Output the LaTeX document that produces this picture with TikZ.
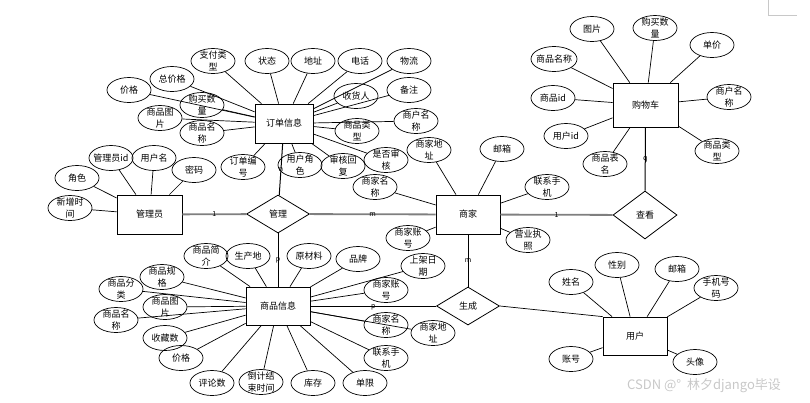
\documentclass[tikz,border=0pt]{standalone}
\usepackage{fontspec}
\setmainfont{Noto Sans CJK SC}
\usetikzlibrary{shapes.geometric}
\definecolor{relgray}{HTML}{7F7F7F}
\definecolor{faint}{HTML}{C8C8C8}

\begin{document}
\begin{tikzpicture}[x=1pt,y=-1pt,
  font=\fontsize{9}{11.5}\selectfont,
  ent/.style={draw,line width=0.8pt,minimum width=64pt,minimum height=38pt,inner sep=0pt},
  rel/.style={draw,diamond,line width=0.8pt,inner sep=0pt,minimum width=63pt,minimum height=38pt},
  attr/.style={draw,ellipse,line width=0.7pt,minimum width=44pt,minimum height=25pt,inner sep=-2pt,align=center},
  ln/.style={line width=0.7pt},
  link/.style={line width=1.8pt,draw=relgray},
  card/.style={font=\fontsize{7}{8}\selectfont,inner sep=1pt}]
\useasboundingbox (0,0) rectangle (810,402);
\draw[faint,line width=0.8pt] (768,0) -- (768,15) -- (797,15);

% entities
\node[ent,minimum width=58pt,minimum height=39pt] (orders) at (284,123.5) {订单信息};
\node[ent,minimum width=65pt,minimum height=39pt] (admin) at (149.5,214.5) {管理员};
\node[ent,minimum height=39pt] (shop) at (468,214.5) {商家};
\node[ent,minimum width=65pt,minimum height=44pt] (cart) at (645.5,105) {购物车};
\node[ent] (goods) at (278,306) {商品信息};
\node[ent] (user) at (635,336) {用户};

% relationships
\node[rel] (manage) at (278,214) {管理};
\node[rel,minimum width=64pt,minimum height=48pt] (view) at (645,215) {查看};
\node[rel] (make) at (468,306) {生成};

% order attributes
\node[attr] (oPay) at (213,61) {支付类\\型};
\node[attr] (oState) at (267,61) {状态};
\node[attr] (oAddr) at (313,61) {地址};
\node[attr] (oTel) at (360,61) {电话};
\node[attr] (oShip) at (409,61) {物流};
\node[attr] (oTotal) at (172,79) {总价格};
\node[attr] (oPrice) at (129,90) {价格};
\node[attr] (oNum) at (202,105) {购买数\\量};
\node[attr] (oPic) at (160,118) {商品图\\片};
\node[attr] (oName) at (202,133) {商品名\\称};
\node[attr] (oRecv) at (356,96) {收货人};
\node[attr] (oNote) at (409,90) {备注};
\node[attr] (oMerch) at (416,121) {商户名\\称};
\node[attr] (oType) at (357,131) {商品类\\型};
\node[attr] (oNo) at (243,167) {订单编\\号};
\node[attr] (oRole) at (300,165) {用户角\\色};
\node[attr] (oReply) at (343,166) {审核回\\复};
\node[attr] (oCheck) at (386,160) {是否审\\核};

% admin attributes
\node[attr] (aRole) at (77,178) {角色};
\node[attr] (aId) at (111,158) {管理员id};
\node[attr] (aUser) at (154,158) {用户名};
\node[attr] (aPwd) at (194,170) {密码};
\node[attr] (aTime) at (70,208) {新增时\\间};

% shop attributes
\node[attr] (sAddr) at (429,150) {商家地\\址};
\node[attr] (sMail) at (502,149) {邮箱};
\node[attr] (sTel) at (547,187) {联系手\\机};
\node[attr] (sName) at (375,187) {商家名\\称};
\node[attr] (sAcc) at (408,238) {商家账\\号};
\node[attr] (sLic) at (528,240) {营业执\\照};

% cart attributes
\node[attr] (cPic) at (592,29) {图片};
\node[attr] (cNum) at (655,28) {购买数\\量};
\node[attr] (cPrice) at (712,45) {单价};
\node[attr,minimum width=46pt] (cName) at (554,59) {商品名称};
\node[attr] (cId) at (553,98) {商品id};
\node[attr] (cUid) at (566,136) {用户id};
\node[attr] (cMerch) at (729,97) {商户名\\称};
\node[attr] (cType) at (717,151) {商品类\\型};
\node[attr] (cTab) at (605,164) {商品表\\名};

% goods attributes
\node[attr] (gIntro) at (206,256) {商品简\\介};
\node[attr] (gPlace) at (248,256) {生产地};
\node[attr] (gMat) at (309,256) {原材料};
\node[attr] (gBrand) at (358,259) {品牌};
\node[attr] (gSpec) at (162,277) {商品规\\格};
\node[attr] (gCat) at (121,289) {商品分\\类};
\node[attr] (gPic) at (165,307) {商品图\\片};
\node[attr] (gName) at (116,320) {商品名\\称};
\node[attr] (gFav) at (165,338) {收藏数};
\node[attr] (gPrice) at (181,358) {价格};
\node[attr] (gCmt) at (212,383) {评论数};
\node[attr] (gEnd) at (261,382) {倒计结\\束时间};
\node[attr] (gStock) at (313,383) {库存};
\node[attr] (gLimit) at (365,383) {单限};
\node[attr] (gTel) at (386,358) {联系手\\机};
\node[attr] (gSName) at (386,325) {商家名\\称};
\node[attr] (gSAddr) at (433,333) {商家地\\址};
\node[attr] (gSAcc) at (386,290) {商家账\\号};
\node[attr] (gDate) at (423,266) {上架日\\期};

% user attributes
\node[attr] (uName) at (571,282) {姓名};
\node[attr] (uSex) at (617,265) {性别};
\node[attr] (uMail) at (677,269) {邮箱};
\node[attr] (uPhone) at (716,288) {手机号\\码};
\node[attr] (uAcc) at (571,359) {账号};
\node[attr] (uHead) at (695,362) {头像};

% attribute connectors
\foreach \a in {oPay,oState,oAddr,oTel,oShip,oTotal,oPrice,oNum,oPic,oName,oRecv,oNote,oMerch,oType,oNo,oRole,oReply,oCheck}
  \draw[ln] (\a) -- (orders);
\foreach \a in {aRole,aId,aUser,aPwd,aTime}
  \draw[ln] (\a) -- (admin);
\foreach \a in {sAddr,sMail,sTel,sName,sAcc,sLic}
  \draw[ln] (\a) -- (shop);
\foreach \a in {cPic,cNum,cPrice,cName,cId,cUid,cMerch,cType,cTab}
  \draw[ln] (\a) -- (cart);
\foreach \a in {gIntro,gPlace,gMat,gBrand,gSpec,gCat,gPic,gName,gFav,gPrice,gCmt,gEnd,gStock,gLimit,gTel,gSName,gSAddr,gSAcc,gDate}
  \draw[ln] (\a) -- (goods);
\foreach \a in {uName,uSex,uMail,uPhone,uAcc,uHead}
  \draw[ln] (\a) -- (user);

% relationship connectors
\draw[link] (admin) -- node[card]{1} (manage);
\draw[link] (manage) -- node[card,pos=0.5]{m} (shop);
\draw[link] (shop) -- node[card]{1} (view);
\draw[ln,line width=1pt] (manage) -- node[card]{n} (orders);
\draw[ln,line width=1pt] (manage) -- node[card]{p} (goods);
\draw[ln,line width=1pt] (view) -- node[card]{q} (cart);
\draw[ln,line width=1pt] (shop) -- node[card]{m} (make);
\draw[ln,line width=1pt] (goods) -- node[card,below=-3pt]{p} (make);
\draw[ln] (make.east) -- (user.north west);

\node[text=faint,font=\fontsize{13}{15}\selectfont] (wm) at (704,386) {CSDN @° \ 林夕django毕设};
\end{tikzpicture}
\end{document}
